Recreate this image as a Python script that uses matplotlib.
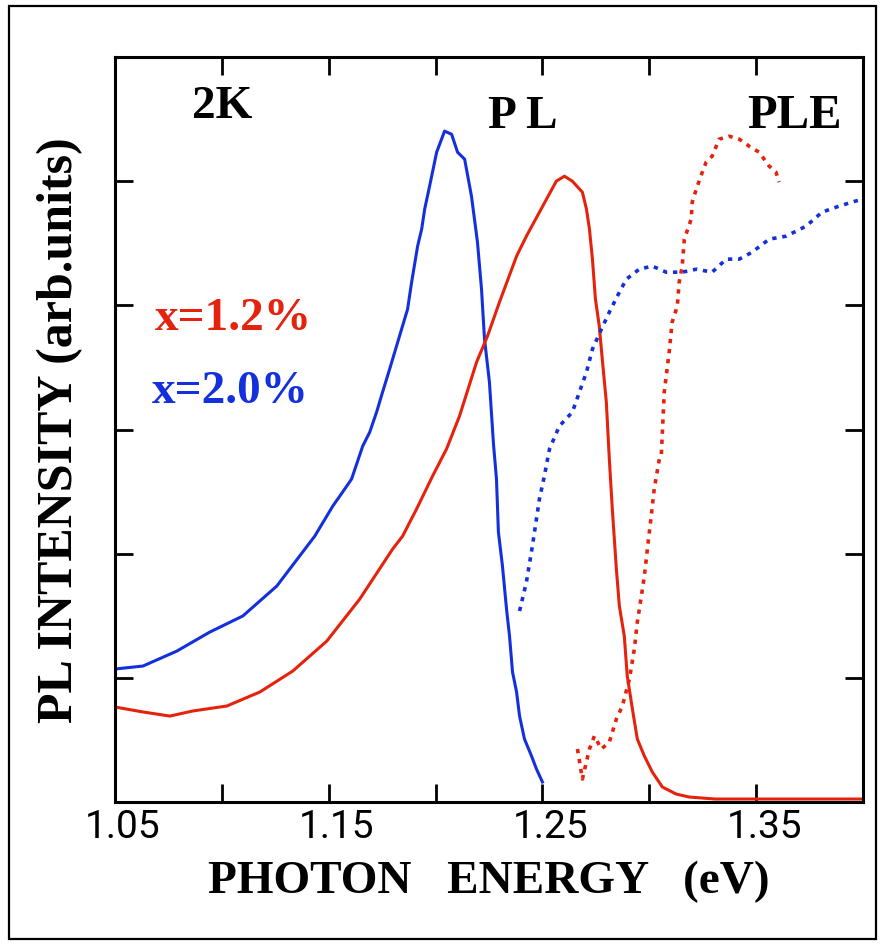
import matplotlib
matplotlib.use("Agg")
import matplotlib.pyplot as plt
from matplotlib.patches import Rectangle
from matplotlib.transforms import ScaledTranslation

# ---------------- data ----------------
# PL, x = 2.0 % (blue, solid)
pl_blue_x = [1.0500, 1.0631, 1.0790, 1.0944, 1.1098, 1.1257, 1.1435, 1.1519, 1.1565,
             1.1607, 1.1659, 1.1692, 1.1724, 1.1752, 1.1785, 1.1841,
             1.1869, 1.1888, 1.1916, 1.1935, 1.1949, 1.1972, 1.2005, 1.2028,
             1.2042, 1.2075, 1.2103, 1.2136, 1.2168, 1.2196, 1.2215, 1.2229, 1.2252,
             1.2271, 1.2285, 1.2294, 1.2313, 1.2332, 1.2346, 1.2360, 1.2379, 1.2393,
             1.2416, 1.2449, 1.2472, 1.2500]
pl_blue_y = [1.071, 1.095, 1.216, 1.369, 1.498, 1.739, 2.142, 2.383, 2.496,
             2.601, 2.866, 2.979, 3.140, 3.301, 3.486, 3.808,
             3.969, 4.187, 4.477, 4.614, 4.775, 4.960, 5.233, 5.338,
             5.403, 5.378, 5.233, 5.177, 4.879, 4.509, 4.130, 3.728, 3.382,
             2.882, 2.601, 2.174, 1.900, 1.554, 1.337, 1.047, 0.886, 0.692,
             0.507, 0.370, 0.266, 0.161]

# PL, x = 1.2 % (red, solid)
pl_red_x = [1.0500, 1.0631, 1.0757, 1.0864, 1.1023, 1.1178, 1.1332, 1.1491, 1.1645,
            1.1799, 1.1846, 1.1911, 1.1986, 1.2051, 1.2112, 1.2192, 1.2243, 1.2299,
            1.2379, 1.2425, 1.2486, 1.2519, 1.2565, 1.2603, 1.2640, 1.2687, 1.2706,
            1.2720, 1.2734, 1.2748, 1.2766, 1.2780, 1.2799, 1.2813, 1.2827, 1.2846,
            1.2860, 1.2883, 1.2897, 1.2921, 1.2944, 1.2977, 1.3014, 1.3061, 1.3126,
            1.3187, 1.3308, 1.3995]
pl_red_y = [0.765, 0.725, 0.692, 0.733, 0.773, 0.886, 1.055, 1.296, 1.634,
            2.037, 2.142, 2.359, 2.625, 2.842, 3.108, 3.543, 3.752, 4.026,
            4.396, 4.557, 4.750, 4.855, 5.000, 5.040, 5.000, 4.911, 4.775,
            4.614, 4.372, 4.050, 3.833, 3.567, 3.221, 2.762, 2.359, 1.876,
            1.578, 1.337, 1.014, 0.749, 0.507, 0.370, 0.242, 0.121, 0.064,
            0.040, 0.024, 0.024]

# PLE, x = 2.0 % (blue, dotted)
ple_blue_x = [1.2393, 1.2425, 1.2453, 1.2472, 1.2486, 1.2509, 1.2533, 1.2579, 1.2640,
              1.2673, 1.2706, 1.2734, 1.2776, 1.2813, 1.2860, 1.2893, 1.2953, 1.3014,
              1.3079, 1.3154, 1.3220, 1.3294, 1.3360, 1.3421, 1.3481, 1.3561, 1.3640,
              1.3687, 1.3734, 1.3808, 1.3888, 1.3981]
ple_blue_y = [1.538, 1.771, 2.061, 2.279, 2.440, 2.625, 2.842, 3.027, 3.140,
              3.301, 3.462, 3.647, 3.808, 3.945, 4.106, 4.211, 4.291, 4.316,
              4.267, 4.267, 4.291, 4.267, 4.372, 4.372, 4.428, 4.533, 4.557,
              4.597, 4.638, 4.750, 4.799, 4.848]

# PLE, x = 1.2 % (red, dotted)
ple_red_x = [1.2664, 1.2687, 1.2720, 1.2743, 1.2776, 1.2813, 1.2846, 1.2874, 1.2907,
             1.2930, 1.2944, 1.2963, 1.2977, 1.2991, 1.3009, 1.3023, 1.3047, 1.3056,
             1.3070, 1.3093, 1.3107, 1.3131, 1.3140, 1.3154, 1.3164, 1.3196, 1.3201,
             1.3220, 1.3248, 1.3266, 1.3294, 1.3327, 1.3374, 1.3421, 1.3467, 1.3514,
             1.3561, 1.3593, 1.3607]
ple_red_y = [0.427, 0.185, 0.427, 0.531, 0.427, 0.483, 0.668, 0.773, 0.990,
             1.232, 1.449, 1.659, 1.820, 2.037, 2.303, 2.520, 2.762, 2.786,
             3.301, 3.623, 3.865, 3.993, 4.187, 4.316, 4.533, 4.694, 4.831,
             4.936, 5.072, 5.153, 5.201, 5.338, 5.362, 5.338, 5.282, 5.233,
             5.121, 5.072, 4.992]

xtick_major = [1.05, 1.15, 1.25, 1.35]
xtick_labels = ["1.05", "1.15", "1.25", "1.35"]
xtick_minor = [1.10, 1.20, 1.30]
ytick_pos = [1, 2, 3, 4, 5]

RED = "#e5220c"
BLUE = "#1430dc"
SERIF = ["Liberation Serif", "DejaVu Serif"]

# ---------------- figure ----------------
fig = plt.figure(figsize=(8.84, 9.45), dpi=100)
ax = fig.add_axes([115 / 884, 142 / 945, 748 / 884, 745 / 945])

ax.plot(pl_blue_x, pl_blue_y, color=BLUE, lw=2.2)
ax.plot(pl_red_x, pl_red_y, color=RED, lw=2.2)
ax.plot(ple_blue_x, ple_blue_y, color=BLUE, lw=2.6, linestyle=(0, (1.2, 1.6)))
ax.plot(ple_red_x, ple_red_y, color=RED, lw=2.6, linestyle=(0, (1.2, 1.6)))

ax.set_xlim(1.05, 1.40)
ax.set_ylim(0, 6)

for s in ax.spines.values():
    s.set_linewidth(2.2)

ax.set_xticks(xtick_major)
ax.set_xticklabels(xtick_labels)
ax.set_xticks(xtick_minor, minor=True)
ax.set_yticks(ytick_pos)
ax.set_yticklabels([])
ax.tick_params(which="both", direction="in", length=13, width=2.0,
               top=True, right=True, pad=4)
ax.tick_params(axis="x", labelsize=28)
for lab in ax.get_xticklabels():
    lab.set_family(["Roboto", "DejaVu Sans"])
    lab.set_transform(lab.get_transform() + ScaledTranslation(8 / 100, 0, fig.dpi_scale_trans))

ax.set_xlabel("PHOTON   ENERGY   (eV)", family=SERIF, fontweight="bold", fontsize=34)
ax.xaxis.set_label_coords(0.5, -0.078)
ax.set_ylabel("PL INTENSITY (arb.units)", family=SERIF, fontweight="bold", fontsize=36)
ax.yaxis.set_label_coords(-0.043, 0.5)

ax.text(1.086, 5.52, "2K", family=SERIF, fontweight="bold", fontsize=34, ha="left", va="baseline")
ax.text(1.2243, 5.44, "P L", family=SERIF, fontweight="bold", fontsize=34, ha="left", va="baseline")
ax.text(1.3458, 5.44, "PLE", family=SERIF, fontweight="bold", fontsize=35, ha="left", va="baseline")
ax.text(1.0687, 3.81, "x=1.2%", family=SERIF, fontweight="bold", fontsize=34, color=RED,
        ha="left", va="baseline")
ax.text(1.0673, 3.22, "x=2.0%", family=SERIF, fontweight="bold", fontsize=34, color=BLUE,
        ha="left", va="baseline")

fig.patches.append(Rectangle((9 / 884, 5 / 945), 867 / 884, 933 / 945,
                             transform=fig.transFigure, fill=False,
                             edgecolor="black", linewidth=1.6))

fig.savefig("out.png", dpi=100)
